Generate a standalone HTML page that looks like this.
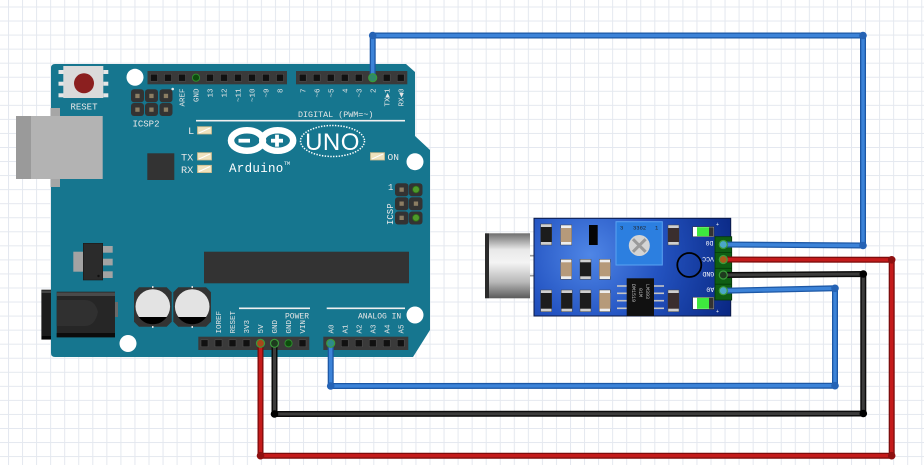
<!DOCTYPE html>
<html><head><meta charset="utf-8">
<style>
html,body{margin:0;padding:0;background:#fff;}
svg{display:block;}
text{font-family:"Liberation Mono",monospace;}
</style></head><body>
<svg width="924" height="465" viewBox="0 0 924 465" xmlns="http://www.w3.org/2000/svg">
<defs>
<pattern id="grid" x="8" y="6.5" width="14.05" height="14.05" patternUnits="userSpaceOnUse">
<path d="M0.5 0 V14.05 M0 0.5 H14.05" stroke="#e4e8ef" stroke-width="1" fill="none"/>
</pattern>
<radialGradient id="pcb" cx="590" cy="255" r="150" gradientUnits="userSpaceOnUse">
<stop offset="0" stop-color="#4f86e6"/>
<stop offset="0.45" stop-color="#2454c2"/>
<stop offset="1" stop-color="#0a2884"/>
</radialGradient>
<linearGradient id="mic" x1="0" y1="0" x2="0" y2="1">
<stop offset="0" stop-color="#6e6e6e"/>
<stop offset="0.25" stop-color="#e8e8e8"/>
<stop offset="0.45" stop-color="#f4f4f4"/>
<stop offset="0.75" stop-color="#b8b8b8"/>
<stop offset="1" stop-color="#5a5a5a"/>
</linearGradient>
</defs>

<rect width="924" height="465" fill="#fff"/>
<rect width="924" height="465" fill="url(#grid)"/>

<!-- USB connector -->
<rect x="50.7" y="108" width="9.3" height="79" fill="#a6a6a6"/>
<rect x="16" y="116" width="86.7" height="63" fill="#b3b3b3"/>
<rect x="16" y="116" width="15" height="63" fill="#9a9a9a"/>

<!-- Power jack -->
<rect x="56.7" y="291.7" width="58.3" height="45.6" fill="#262626"/>
<rect x="56.7" y="292.5" width="58.3" height="3.5" fill="#4a4a4a"/>
<rect x="56.7" y="333" width="58.3" height="4.3" fill="#0c0c0c"/>
<path d="M56.7 300 H85 Q95 300 98 312 Q95 326 85 326 H56.7 Z" fill="#303030"/>
<rect x="115" y="302" width="3" height="15" fill="#6a6a6a"/>
<rect x="41.7" y="290" width="15" height="49.3" fill="#1c1c1c" stroke="#111" stroke-width="0.6"/>
<rect x="41.7" y="290.5" width="15" height="2.5" fill="#444"/>
<rect x="41.7" y="336" width="15" height="3" fill="#050505"/>

<!-- Arduino board -->
<path d="M55 64 L406 64 L415 72 L415 136 L430 150 L430 330 L413 357 L55 357 Q51 357 51 353 L51 68 Q51 64 55 64 Z" fill="#16768f"/>

<!-- redraw jack overlap on board (jack lies over board) -->
<rect x="56.7" y="291.7" width="58.3" height="45.6" fill="#262626"/>
<rect x="56.7" y="292.5" width="58.3" height="3.5" fill="#4a4a4a"/>
<rect x="56.7" y="333" width="58.3" height="4.3" fill="#0c0c0c"/>
<path d="M56.7 300 H85 Q95 300 98 312 Q95 326 85 326 H56.7 Z" fill="#303030"/>
<rect x="115" y="302" width="3" height="15" fill="#6a6a6a"/>
<!-- USB over board -->
<rect x="50.7" y="108" width="9.3" height="79" fill="#a6a6a6"/>
<rect x="16" y="116" width="86.7" height="63" fill="#b3b3b3"/>
<rect x="16" y="116" width="15" height="63" fill="#9a9a9a"/>

<!-- mounting holes -->
<circle cx="135" cy="77.3" r="8.5" fill="#fff"/>
<circle cx="415" cy="161.7" r="8.5" fill="#fff"/>
<circle cx="128" cy="343.5" r="8.5" fill="#fff"/>
<circle cx="415" cy="315" r="8.5" fill="#fff"/>

<!-- reset button -->
<g fill="#e6e6e6">
<rect x="58.5" y="70" width="5" height="4"/><rect x="58.5" y="81.7" width="5" height="4"/><rect x="58.5" y="93.3" width="5" height="4"/>
<rect x="103.3" y="70" width="5" height="4"/><rect x="103.3" y="81.7" width="5" height="4"/><rect x="103.3" y="93.3" width="5" height="4"/>
</g>
<rect x="63.3" y="66" width="40" height="32" fill="#dadada"/>
<circle cx="84" cy="83.3" r="10" fill="#8b1f1f"/>
<text x="84" y="109.5" font-size="9" fill="#e8e8e8" text-anchor="middle">RESET</text>

<!-- ICSP2 -->
<g>
<rect x="131" y="89.3" width="13" height="13" rx="3" fill="#333"/><rect x="145" y="89.3" width="13" height="13" rx="3" fill="#333"/><rect x="159.5" y="89.3" width="13" height="13" rx="3" fill="#333"/>
<rect x="131" y="103" width="13" height="13" rx="3" fill="#333"/><rect x="145" y="103" width="13" height="13" rx="3" fill="#333"/><rect x="159.5" y="103" width="13" height="13" rx="3" fill="#333"/>
<g fill="#8c7e63">
<rect x="135.3" y="93.8" width="4.3" height="4.3"/><rect x="149.3" y="93.8" width="4.3" height="4.3"/><rect x="163.8" y="93.8" width="4.3" height="4.3"/>
<rect x="135.3" y="107.5" width="4.3" height="4.3"/><rect x="149.3" y="107.5" width="4.3" height="4.3"/><rect x="163.8" y="107.5" width="4.3" height="4.3"/>
</g>
<circle cx="172.7" cy="89" r="1.3" fill="#e8e8e8"/>
</g>
<text x="146" y="126.5" font-size="9" fill="#e8e8e8" text-anchor="middle">ICSP2</text>

<!-- top headers -->
<rect x="147.5" y="71" width="139.5" height="13.3" fill="#3a3a3a"/>
<rect x="296" y="71" width="111.3" height="13.3" fill="#3a3a3a"/>
<g fill="#111" stroke="#555" stroke-width="0.5">
<rect x="150.5" y="74.2" width="7" height="7"/><rect x="164.5" y="74.2" width="7" height="7"/><rect x="178.5" y="74.2" width="7" height="7"/>
<rect x="206.5" y="74.2" width="7" height="7"/><rect x="220.5" y="74.2" width="7" height="7"/><rect x="234.5" y="74.2" width="7" height="7"/><rect x="248.5" y="74.2" width="7" height="7"/><rect x="262.5" y="74.2" width="7" height="7"/><rect x="276.5" y="74.2" width="7" height="7"/>
<rect x="299.2" y="74.2" width="7" height="7"/><rect x="313.2" y="74.2" width="7" height="7"/><rect x="327.2" y="74.2" width="7" height="7"/><rect x="341.2" y="74.2" width="7" height="7"/><rect x="355.2" y="74.2" width="7" height="7"/><rect x="383.2" y="74.2" width="7" height="7"/><rect x="397.2" y="74.2" width="7" height="7"/>
</g>
<circle cx="196" cy="77.7" r="3.6" fill="#0d4d0d" stroke="#2e8b2e" stroke-width="1"/>

<!-- top labels -->
<g font-size="7.5" fill="#e6e6e6" text-anchor="end">
<text transform="translate(182,88.5) rotate(-90)" dy=".35em">AREF</text>
<text transform="translate(196,88.5) rotate(-90)" dy=".35em">GND</text>
<text transform="translate(210,88.5) rotate(-90)" dy=".35em">13</text>
<text transform="translate(224,88.5) rotate(-90)" dy=".35em">12</text>
<text transform="translate(238,88.5) rotate(-90)" dy=".35em">~11</text>
<text transform="translate(252,88.5) rotate(-90)" dy=".35em">~10</text>
<text transform="translate(266,88.5) rotate(-90)" dy=".35em">~9</text>
<text transform="translate(280,88.5) rotate(-90)" dy=".35em">8</text>
<text transform="translate(302.7,88.5) rotate(-90)" dy=".35em">7</text>
<text transform="translate(316.7,88.5) rotate(-90)" dy=".35em">~6</text>
<text transform="translate(330.7,88.5) rotate(-90)" dy=".35em">~5</text>
<text transform="translate(344.7,88.5) rotate(-90)" dy=".35em">4</text>
<text transform="translate(358.7,88.5) rotate(-90)" dy=".35em">~3</text>
<text transform="translate(372.7,88.5) rotate(-90)" dy=".35em">2</text>
<text transform="translate(386.7,88.5) rotate(-90)" dy=".35em">TX▶1</text>
<text transform="translate(400.7,88.5) rotate(-90)" dy=".35em">RX◀0</text>
</g>
<text x="298" y="117" font-size="8.4" fill="#e6e6e6">DIGITAL (PWM=~)</text>
<line x1="196" y1="120.7" x2="405" y2="120.7" stroke="#f0f0f0" stroke-width="1.6"/>

<!-- LEDs -->
<g fill="#efe2bd" stroke="#cdbb8c" stroke-width="0.8">
<rect x="197.5" y="126.7" width="14" height="7.3"/>
<rect x="197.5" y="152.7" width="14" height="7.3"/>
<rect x="197.5" y="165.3" width="14" height="7.3"/>
<rect x="370.5" y="152.7" width="14" height="7.3"/>
</g>
<g stroke="#fff" stroke-width="1">
<line x1="199" y1="133" x2="210" y2="128"/><line x1="199" y1="159" x2="210" y2="154"/><line x1="199" y1="171.5" x2="210" y2="166.5"/><line x1="372" y1="159" x2="383" y2="154"/>
</g>
<g font-size="10.3" fill="#e8e8e8">
<text x="188" y="134">L</text>
<text x="181" y="160.5">TX</text>
<text x="181" y="173">RX</text>
<text x="387.5" y="160" font-size="9.5">ON</text>
</g>

<!-- logo -->
<ellipse cx="247" cy="140.5" rx="16" ry="10.3" fill="none" stroke="#fff" stroke-width="6.5"/>
<ellipse cx="277.7" cy="140.5" rx="15.5" ry="10.3" fill="none" stroke="#fff" stroke-width="6.5"/>
<rect x="238.5" y="138.8" width="11.5" height="3.8" fill="#fff"/>
<rect x="271" y="138.8" width="12" height="3.8" fill="#fff"/>
<rect x="275.1" y="134.7" width="3.8" height="12" fill="#fff"/>
<ellipse cx="332.5" cy="141" rx="32" ry="15.5" fill="none" stroke="#fff" stroke-width="1.5" stroke-dasharray="1.4 1.4"/>
<text x="332.5" y="150" font-family="Liberation Sans, sans-serif" font-size="24" fill="#fff" text-anchor="middle" letter-spacing="0.5" style="font-family:'Liberation Sans',sans-serif">UNO</text>
<text x="229" y="172" font-size="12.5" fill="#fff" letter-spacing="0.3">Arduino</text>
<text x="284" y="165" font-size="5" fill="#fff">TM</text>

<!-- small chip -->
<rect x="147.3" y="153.3" width="27" height="26.7" fill="#333"/>

<!-- ICSP right -->
<rect x="395" y="183.3" width="13.5" height="13" rx="3" fill="#333"/><rect x="409" y="183.3" width="13.5" height="13" rx="3" fill="#333"/>
<rect x="395" y="197.3" width="13.5" height="13" rx="3" fill="#333"/><rect x="409" y="197.3" width="13.5" height="13" rx="3" fill="#333"/>
<rect x="395" y="211.5" width="13.5" height="13" rx="3" fill="#333"/><rect x="409" y="211.5" width="13.5" height="13" rx="3" fill="#333"/>
<g fill="#8c7e63">
<rect x="399.5" y="187.5" width="4.3" height="4.3"/><rect x="399.5" y="201.5" width="4.3" height="4.3"/><rect x="413.8" y="201.5" width="4.3" height="4.3"/><rect x="399.5" y="215.7" width="4.3" height="4.3"/>
</g>
<circle cx="416" cy="189.5" r="3.4" fill="#4f9a2a" stroke="#2d6e16" stroke-width="0.8"/>
<circle cx="416" cy="217.8" r="3.4" fill="#4f9a2a" stroke="#2d6e16" stroke-width="0.8"/>
<text x="388" y="190" font-size="9" fill="#e8e8e8">1</text>
<text transform="translate(390,225) rotate(-90)" dy=".35em" font-size="9" fill="#e8e8e8">ICSP</text>

<!-- regulator -->
<rect x="73.3" y="251.7" width="10" height="20" fill="#a3a3a3"/>
<rect x="102.7" y="246" width="10" height="6.7" fill="#a3a3a3"/>
<rect x="102.7" y="258.7" width="10" height="6.7" fill="#a3a3a3"/>
<rect x="102.7" y="271.3" width="10" height="6.7" fill="#a3a3a3"/>
<rect x="83.3" y="243.3" width="19.4" height="36.7" fill="#2b2b2b" stroke="#1a1a1a" stroke-width="0.6"/>
<circle cx="98.5" cy="276" r="1.2" fill="#111"/>

<!-- big chip -->
<rect x="204" y="251.7" width="205" height="31.6" fill="#333"/>

<!-- capacitors -->
<g>
<path d="M139 287.3 H166.7 L171.7 292.3 V321.7 L166.7 326.7 H139 L134 321.7 V292.3 Z" fill="#333"/>
<circle cx="152.8" cy="306.5" r="17.3" fill="#e3e3e3"/>
<path d="M138.7 317 A17.3 17.3 0 0 0 166.9 317 Z" fill="#000"/>
<path d="M178.3 287.3 H206 L211 292.3 V321.7 L206 326.7 H178.3 L173.3 321.7 V292.3 Z" fill="#333"/>
<circle cx="192.2" cy="306.5" r="17.3" fill="#e3e3e3"/>
<path d="M178.1 317 A17.3 17.3 0 0 0 206.3 317 Z" fill="#000"/>
<g fill="#ddd"><rect x="152" y="286" width="1.5" height="2"/><rect x="152" y="326" width="1.5" height="2"/><rect x="191.5" y="286" width="1.5" height="2"/><rect x="191.5" y="326" width="1.5" height="2"/></g>
</g>

<!-- bottom section labels -->
<line x1="239" y1="308.3" x2="310" y2="308.3" stroke="#f0f0f0" stroke-width="1.6"/>
<line x1="326.7" y1="308.3" x2="405" y2="308.3" stroke="#f0f0f0" stroke-width="1.6"/>
<text x="285" y="318.5" font-size="8" fill="#e6e6e6">POWER</text>
<text x="358" y="318.5" font-size="8" fill="#e6e6e6">ANALOG IN</text>
<g font-size="7.5" fill="#e6e6e6">
<text transform="translate(218.5,333.5) rotate(-90)" dy=".35em">IOREF</text>
<text transform="translate(232.5,333.5) rotate(-90)" dy=".35em">RESET</text>
<text transform="translate(246.5,333.5) rotate(-90)" dy=".35em">3V3</text>
<text transform="translate(260.5,333.5) rotate(-90)" dy=".35em">5V</text>
<text transform="translate(274.5,333.5) rotate(-90)" dy=".35em">GND</text>
<text transform="translate(288.5,333.5) rotate(-90)" dy=".35em">GND</text>
<text transform="translate(302.5,333.5) rotate(-90)" dy=".35em">VIN</text>
<text transform="translate(330.7,333.5) rotate(-90)" dy=".35em">A0</text>
<text transform="translate(344.7,333.5) rotate(-90)" dy=".35em">A1</text>
<text transform="translate(358.7,333.5) rotate(-90)" dy=".35em">A2</text>
<text transform="translate(372.7,333.5) rotate(-90)" dy=".35em">A3</text>
<text transform="translate(386.7,333.5) rotate(-90)" dy=".35em">A4</text>
<text transform="translate(400.7,333.5) rotate(-90)" dy=".35em">A5</text>
</g>

<!-- bottom headers -->
<rect x="198.3" y="336.7" width="111" height="13.3" fill="#3a3a3a"/>
<rect x="323.3" y="336.7" width="85" height="13.3" fill="#3a3a3a"/>
<g fill="#111" stroke="#555" stroke-width="0.5">
<rect x="201" y="339.8" width="7" height="7"/><rect x="215" y="339.8" width="7" height="7"/><rect x="229" y="339.8" width="7" height="7"/><rect x="243" y="339.8" width="7" height="7"/><rect x="299" y="339.8" width="7" height="7"/>
<rect x="341.2" y="339.8" width="7" height="7"/><rect x="355.2" y="339.8" width="7" height="7"/><rect x="369.2" y="339.8" width="7" height="7"/><rect x="383.2" y="339.8" width="7" height="7"/><rect x="397.2" y="339.8" width="7" height="7"/>
</g>
<circle cx="288.5" cy="343.3" r="3.6" fill="#0d4d0d" stroke="#2e8b2e" stroke-width="1"/>

<!-- Sound sensor module -->
<rect x="485" y="233.3" width="4" height="65" fill="#2a2a2a"/>
<rect x="489" y="233.3" width="41" height="65" fill="url(#mic)"/>
<line x1="530" y1="255.7" x2="549" y2="255.7" stroke="#9a9a9a" stroke-width="1.6"/>
<line x1="530" y1="275.7" x2="549" y2="275.7" stroke="#9a9a9a" stroke-width="1.6"/>

<rect x="534" y="218.3" width="196.7" height="97.7" fill="url(#pcb)" stroke="#0a1845" stroke-width="1"/>

<!-- components row1 -->
<g>
<rect x="540.7" y="224" width="11" height="21" fill="#cfcfcf" stroke="#444" stroke-width="0.5"/>
<rect x="540.7" y="227" width="11" height="15" fill="#1c1c1c"/>
<rect x="560.7" y="225" width="11" height="20" fill="#eee" stroke="#444" stroke-width="0.5"/>
<rect x="560.7" y="228" width="11" height="14" fill="#b69a7a"/>
<rect x="589" y="225" width="8.7" height="20" fill="#050505"/>
<rect x="668" y="225" width="11" height="20" fill="#cfcfcf" stroke="#444" stroke-width="0.5"/>
<rect x="668" y="228" width="11" height="14" fill="#3a2e2e"/>
<!-- row2 -->
<rect x="560.7" y="259.3" width="11" height="20" fill="#eee" stroke="#444" stroke-width="0.5"/>
<rect x="560.7" y="262.3" width="11" height="14" fill="#b69a7a"/>
<rect x="580" y="259.3" width="11" height="20" fill="#cfcfcf" stroke="#444" stroke-width="0.5"/>
<rect x="580" y="262.3" width="11" height="14" fill="#1c1c1c"/>
<rect x="599.3" y="259.3" width="11" height="20" fill="#eee" stroke="#444" stroke-width="0.5"/>
<rect x="599.3" y="262.3" width="11" height="14" fill="#b69a7a"/>
<!-- row3 -->
<rect x="540.7" y="290" width="11" height="21.7" fill="#cfcfcf" stroke="#444" stroke-width="0.5"/>
<rect x="540.7" y="293" width="11" height="15.7" fill="#1c1c1c"/>
<rect x="561.2" y="290" width="11" height="21.7" fill="#cfcfcf" stroke="#444" stroke-width="0.5"/>
<rect x="561.2" y="293" width="11" height="15.7" fill="#1c1c1c"/>
<rect x="580" y="290" width="11" height="21.7" fill="#cfcfcf" stroke="#444" stroke-width="0.5"/>
<rect x="580" y="293" width="11" height="15.7" fill="#1c1c1c"/>
<rect x="599.3" y="290" width="11" height="21.7" fill="#eee" stroke="#444" stroke-width="0.5"/>
<rect x="599.3" y="293" width="11" height="15.7" fill="#b69a7a"/>
<rect x="668" y="290" width="11" height="21.7" fill="#cfcfcf" stroke="#444" stroke-width="0.5"/>
<rect x="668" y="293" width="11" height="15.7" fill="#3a2e2e"/>
</g>

<!-- pot -->
<rect x="616" y="221.7" width="46.3" height="43.3" fill="#2c7fe0" stroke="#5aa3f2" stroke-width="1"/>
<circle cx="639.3" cy="245.5" r="10.5" fill="#d4d4d4"/>
<path d="M633 239.2 L645.6 251.8 M645.6 239.2 L633 251.8" stroke="#9a9a9a" stroke-width="3"/>
<text x="620" y="229.5" font-size="5.5" fill="#222">3</text>
<text x="633" y="229.5" font-size="5.5" fill="#222">3362</text>
<text x="655" y="229.5" font-size="5.5" fill="#222">1</text>

<!-- circle -->
<circle cx="689.3" cy="265" r="12" fill="none" stroke="#000" stroke-width="1.8"/>

<!-- IC -->
<g stroke="#c4c4c4" stroke-width="1.6">
<line x1="617" y1="286" x2="627" y2="286"/><line x1="617" y1="293.3" x2="627" y2="293.3"/><line x1="617" y1="300.7" x2="627" y2="300.7"/><line x1="617" y1="308.3" x2="627" y2="308.3"/>
<line x1="654" y1="286" x2="664" y2="286"/><line x1="654" y1="293.3" x2="664" y2="293.3"/><line x1="654" y1="300.7" x2="664" y2="300.7"/><line x1="654" y1="308.3" x2="664" y2="308.3"/>
</g>
<rect x="626.7" y="278.3" width="27.3" height="37.7" fill="#111"/>
<g font-size="5" fill="#bbb">
<text transform="translate(632,284) rotate(90)">DM1519</text>
<text transform="translate(639,288) rotate(90)">01M</text>
<text transform="translate(646,284) rotate(90)">LM393</text>
</g>

<!-- LEDs on sensor -->
<rect x="692.7" y="226.7" width="21.3" height="10" fill="#fff" stroke="#333" stroke-width="0.5"/>
<rect x="697" y="227.2" width="12" height="9" fill="#3ee83e"/>
<rect x="709" y="227.2" width="4.5" height="9" fill="#333"/>
<rect x="692.7" y="297.3" width="21.3" height="12" fill="#fff" stroke="#333" stroke-width="0.5"/>
<rect x="697" y="297.8" width="12" height="11" fill="#3ee83e"/>
<rect x="709" y="297.8" width="4.5" height="11" fill="#333"/>
<text x="716" y="226" font-size="5" fill="#fff">+</text>
<text x="716" y="313" font-size="5" fill="#fff">+</text>

<!-- connector -->
<rect x="715" y="236.7" width="16.7" height="63.3" fill="#0f5e14" stroke="#053a08" stroke-width="0.8"/>
<g stroke="#053a08" stroke-width="0.8"><line x1="715" y1="252.5" x2="731.7" y2="252.5"/><line x1="715" y1="268.3" x2="731.7" y2="268.3"/><line x1="715" y1="284.2" x2="731.7" y2="284.2"/></g>
<g fill="#0a3d0a" stroke="#2a8a2a" stroke-width="0.8">
<circle cx="723.3" cy="244.5" r="4"/><circle cx="723.3" cy="259.5" r="4"/><circle cx="723.3" cy="275" r="4"/><circle cx="723.3" cy="290.7" r="4"/>
</g>
<g font-size="6.5" fill="#fff" text-anchor="middle">
<text transform="translate(709.5,243.5) rotate(180)" dy=".35em">D0</text>
<text transform="translate(708,259.5) rotate(180)" dy=".35em">VCC</text>
<text transform="translate(708.3,274.3) rotate(180)" dy=".35em">GND</text>
<text transform="translate(710.3,290) rotate(180)" dy=".35em">A0</text>
</g>

<!-- WIRES -->
<g fill="none" stroke-linejoin="round" stroke-linecap="round">
<!-- red -->
<path d="M260.5 343.3 L260.5 455.7 L891.7 455.7 L891.7 259.8 L723.3 259.5" stroke="#7d0c0c" stroke-width="6"/>
<path d="M260.5 343.3 L260.5 455.7 L891.7 455.7 L891.7 259.8 L723.3 259.5" stroke="#c41b1b" stroke-width="3.4"/>
<!-- black -->
<path d="M274.5 343.3 L274.5 414 L863.3 413.5 L863.3 274 L723.3 275" stroke="#0c0c0c" stroke-width="6"/>
<path d="M274.5 343.3 L274.5 414 L863.3 413.5 L863.3 274 L723.3 275" stroke="#3c3c3c" stroke-width="3"/>
<!-- blue A0 -->
<path d="M330.7 343.3 L330.7 386 L835 385.7 L835 288.3 L723.3 290.7" stroke="#1d58a6" stroke-width="6"/>
<path d="M330.7 343.3 L330.7 386 L835 385.7 L835 288.3 L723.3 290.7" stroke="#3c83d8" stroke-width="3.4"/>
<!-- blue D2 -->
<path d="M372.7 77.7 L372.7 35.5 L863 35.5 L863 245.5 L723.3 244.5" stroke="#1d58a6" stroke-width="6"/>
<path d="M372.7 77.7 L372.7 35.5 L863 35.5 L863 245.5 L723.3 244.5" stroke="#3c83d8" stroke-width="3.4"/>
</g>
<!-- bend dots -->
<g>
<circle cx="260.5" cy="455.7" r="3.8" fill="#8e1010"/><circle cx="891.7" cy="455.7" r="3.8" fill="#8e1010"/><circle cx="891.7" cy="259.8" r="3.8" fill="#8e1010"/>
<circle cx="274.5" cy="414" r="3.8" fill="#000"/><circle cx="863.3" cy="413.5" r="3.8" fill="#000"/><circle cx="863.3" cy="274" r="3.8" fill="#000"/>
<circle cx="330.7" cy="386" r="3.8" fill="#2563b5"/><circle cx="835" cy="385.7" r="3.8" fill="#2563b5"/><circle cx="835" cy="288.3" r="3.8" fill="#2563b5"/>
<circle cx="372.7" cy="35.5" r="3.8" fill="#2563b5"/><circle cx="863" cy="35.5" r="3.8" fill="#2563b5"/><circle cx="863" cy="245.5" r="3.8" fill="#2563b5"/>
</g>
<!-- pin ends -->
<g stroke="#3a9a3a" stroke-width="1.2">
<circle cx="372.7" cy="77.7" r="4" fill="#2f8a6a"/>
<circle cx="260.5" cy="343.3" r="4" fill="#a8481a"/>
<circle cx="274.5" cy="343.3" r="4" fill="#1e3a1e"/>
<circle cx="330.7" cy="343.3" r="4" fill="#2f8a8a"/>
<circle cx="723.3" cy="244.5" r="4" fill="#4aa7c8"/>
<circle cx="723.3" cy="259.5" r="4" fill="#a85a1a"/>
<circle cx="723.3" cy="275" r="4" fill="#1e3a1e"/>
<circle cx="723.3" cy="290.7" r="4" fill="#4aa7c8"/>
</g>
</svg>
</body></html>
